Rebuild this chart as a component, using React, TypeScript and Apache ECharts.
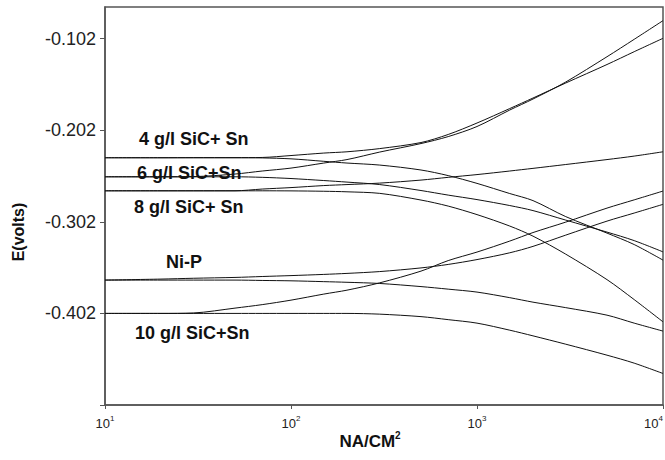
import React, { useEffect, useRef } from "react";
import * as echarts from "echarts";

// Current density (NA/CM^2), log scale
const CURRENT = [10, 20, 30, 50, 70, 100, 150, 200, 300, 500, 700, 1000, 1500, 2000, 3000, 5000, 7000, 10000];

// Potential E (volts) for each branch
const SIC4_ANODIC = [-0.2320, -0.2320, -0.2319, -0.2319, -0.2317, -0.2296, -0.2269, -0.2255, -0.2220, -0.2154, -0.2066, -0.1941, -0.1783, -0.1668, -0.1504, -0.1302, -0.1162, -0.1016];
const SIC4_CATHODIC = [-0.2320, -0.2320, -0.2320, -0.2320, -0.2322, -0.2332, -0.2359, -0.2378, -0.2400, -0.2454, -0.2515, -0.2600, -0.2711, -0.2788, -0.2963, -0.3143, -0.3268, -0.3438];
const SIC6_ANODIC = [-0.2528, -0.2528, -0.2526, -0.2498, -0.2465, -0.2433, -0.2378, -0.2340, -0.2258, -0.2165, -0.2089, -0.1979, -0.1799, -0.1679, -0.1493, -0.1217, -0.1027, -0.0823];
const SIC6_CATHODIC = [-0.2528, -0.2528, -0.2528, -0.2528, -0.2534, -0.2547, -0.2569, -0.2586, -0.2613, -0.2678, -0.2728, -0.2777, -0.2842, -0.2897, -0.3001, -0.3132, -0.3225, -0.3348];
const SIC8_ANODIC = [-0.2681, -0.2681, -0.2681, -0.2681, -0.2662, -0.2646, -0.2624, -0.2613, -0.2597, -0.2564, -0.2534, -0.2504, -0.2465, -0.2436, -0.2394, -0.2340, -0.2302, -0.2255];
const SIC8_CATHODIC = [-0.2681, -0.2681, -0.2681, -0.2681, -0.2681, -0.2682, -0.2686, -0.2692, -0.2709, -0.2782, -0.2848, -0.2941, -0.3066, -0.3176, -0.3373, -0.3651, -0.3869, -0.4112];
const NIP_ANODIC = [-0.3656, -0.3645, -0.3636, -0.3627, -0.3617, -0.3607, -0.3594, -0.3583, -0.3563, -0.3523, -0.3485, -0.3432, -0.3358, -0.3288, -0.3165, -0.3012, -0.2924, -0.2829];
const NIP_CATHODIC = [-0.3656, -0.3656, -0.3656, -0.3656, -0.3660, -0.3664, -0.3673, -0.3680, -0.3693, -0.3727, -0.3755, -0.3787, -0.3848, -0.3897, -0.3957, -0.4039, -0.4126, -0.4213];
const SIC10_ANODIC = [-0.4020, -0.4020, -0.4015, -0.3962, -0.3924, -0.3875, -0.3809, -0.3766, -0.3686, -0.3558, -0.3443, -0.3350, -0.3230, -0.3137, -0.3023, -0.2870, -0.2780, -0.2684];
const SIC10_CATHODIC = [-0.4020, -0.4020, -0.4020, -0.4020, -0.4020, -0.4020, -0.4020, -0.4020, -0.4028, -0.4055, -0.4088, -0.4126, -0.4203, -0.4265, -0.4356, -0.4476, -0.4563, -0.4676];

const CURVES = [
  SIC4_ANODIC, SIC4_CATHODIC,
  SIC6_ANODIC, SIC6_CATHODIC,
  SIC8_ANODIC, SIC8_CATHODIC,
  NIP_ANODIC, NIP_CATHODIC,
  SIC10_ANODIC, SIC10_CATHODIC,
];

const SAMPLE_LABELS = ["4 g/l SiC+ Sn", "6 g/l SiC+Sn", "8 g/l SiC+ Sn", "Ni-P", "10 g/l SiC+Sn"];
const Y_TICKS = [-0.402, -0.302, -0.202, -0.102];
const Y_TICK_MARKS = [-0.502, -0.402, -0.302, -0.202, -0.102];

const FONT = "'Liberation Sans', Arial, sans-serif";

export default function App() {
  const ref = useRef<HTMLDivElement>(null);

  useEffect(() => {
    if (!ref.current) return;
    const chart = echarts.init(ref.current, null, { renderer: "svg" });

    const labelPos = [
      [139, 139],
      [137, 173],
      [134, 207],
      [166, 262],
      [135, 333],
    ];

    const graphic: any[] = SAMPLE_LABELS.map((t, i) => ({
      type: "text",
      x: labelPos[i][0],
      y: labelPos[i][1],
      z: 100,
      style: {
        text: t,
        font: `bold 18px ${FONT}`,
        fill: "#111",
        align: "left",
        textAlign: "left",
        verticalAlign: "middle",
        textVerticalAlign: "middle",
      },
    }));

    graphic.push({
      type: "text",
      x: 18,
      y: 232,
      rotation: Math.PI / 2,
      style: {
        text: "E(volts)",
        font: `bold 16px ${FONT}`,
        fill: "#111",
        align: "center",
        textAlign: "center",
        verticalAlign: "middle",
        textVerticalAlign: "middle",
      },
    });

    graphic.push({
      type: "text",
      x: 370,
      y: 440,
      style: {
        text: "{a|NA/CM}{s|2}",
        fill: "#111",
        align: "center",
        textAlign: "center",
        verticalAlign: "middle",
        textVerticalAlign: "middle",
        rich: {
          a: { font: `bold 17px ${FONT}`, fill: "#111", lineHeight: 20, verticalAlign: "bottom" },
          s: { font: `bold 10px ${FONT}`, fill: "#111", lineHeight: 10, verticalAlign: "top" },
        },
      },
    });

    const series = CURVES.map((vals) => ({
      type: "line",
      data: CURRENT.map((x, i) => [x, vals[i]]),
      showSymbol: false,
      smooth: 0.3,
      lineStyle: { color: "#111", width: 1 },
      silent: true,
    }));

    chart.setOption({
      animation: false,
      backgroundColor: "#ffffff",
      grid: {
        left: 105,
        right: 2,
        top: 7,
        bottom: 55,
        outerBoundsMode: "none",
        containLabel: false,
        show: true,
        borderColor: "#555",
        borderWidth: 1.5,
      },
      xAxis: {
        type: "log",
        logBase: 10,
        min: 10,
        max: 10000,
        axisLine: { show: true, onZero: false, lineStyle: { color: "#555", width: 1.5 } },
        axisTick: { show: true, inside: false, length: 4, lineStyle: { color: "#555" } },
        minorTick: { show: false },
        splitLine: { show: false },
        axisLabel: {
          margin: 9,
          hideOverlap: false,
          alignMaxLabel: "right",
          formatter: (v: number) => `{b|10}{s|${Math.round(Math.log10(v))}}`,
          rich: {
            b: { fontSize: 13, fontFamily: FONT, color: "#222", lineHeight: 16, verticalAlign: "bottom" },
            s: { fontSize: 8, fontFamily: FONT, color: "#222", lineHeight: 8, verticalAlign: "top" },
          },
        },
      },
      yAxis: {
        type: "value",
        min: -0.502,
        max: -0.0674,
        axisLine: { show: true, lineStyle: { color: "#555", width: 1.5 } },
        axisTick: {
          show: true,
          inside: false,
          length: 5,
          customValues: Y_TICK_MARKS,
          lineStyle: { color: "#555" },
        },
        splitLine: { show: false },
        axisLabel: {
          customValues: Y_TICKS,
          formatter: (v: number) => v.toFixed(3),
          fontSize: 18,
          fontFamily: FONT,
          color: "#222",
          margin: 9,
        },
      },
      series,
      graphic,
    });

    return () => chart.dispose();
  }, []);

  return (
    <div
      ref={ref}
      style={{ position: "fixed", left: 0, top: 0, width: 665, height: 460, background: "#fff" }}
    />
  );
}
